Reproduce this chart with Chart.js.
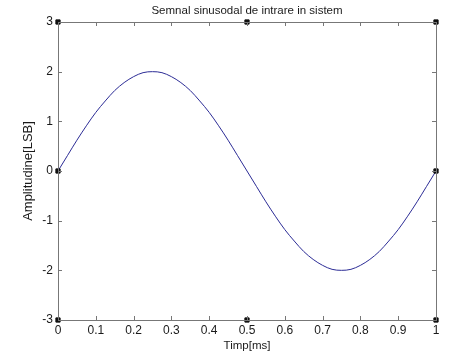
<!DOCTYPE html>
<html>
<head>
<meta charset="utf-8">
<script src="https://cdn.jsdelivr.net/npm/chart.js@4/dist/chart.umd.min.js"></script>
<style>
html,body{margin:0;padding:0;background:#fff;}
canvas{display:block;}
</style>
</head>
<body>
<canvas id="c" width="474" height="358"></canvas>
<script>
// Data
const timeMs = [0,0.025,0.05,0.075,0.1,0.125,0.15,0.175,0.2,0.225,0.25,0.275,0.3,0.325,0.35,0.375,0.4,0.425,0.45,0.475,0.5,
  0.525,0.55,0.575,0.6,0.625,0.65,0.675,0.7,0.725,0.75,0.775,0.8,0.825,0.85,0.875,0.9,0.925,0.95,0.975,1];
const amplitude = [0,0.31,0.62,0.91,1.18,1.41,1.62,1.78,1.90,1.98,2.00,1.98,1.90,1.78,1.62,1.41,1.18,0.91,0.62,0.31,0,
  -0.31,-0.62,-0.91,-1.18,-1.41,-1.62,-1.78,-1.90,-1.98,-2.00,-1.98,-1.90,-1.78,-1.62,-1.41,-1.18,-0.91,-0.62,-0.31,0];
const handleX = [0,0.5,1,0,1,0,0.5,1];
const handleY = [3,3,3,0,0,-3,-3,-3];
const xTicks = [0,0.1,0.2,0.3,0.4,0.5,0.6,0.7,0.8,0.9,1];
const yTicks = [-3,-2,-1,0,1,2,3];

const curve = timeMs.map((x,i)=>({x:x,y:amplitude[i]}));
const handles = handleX.map((x,i)=>({x:x,y:handleY[i]}));

const frameTicks = {
  id:'frameTicks',
  afterDatasetsDraw(chart){
    const {ctx, chartArea:a, scales:{x,y}} = chart;
    ctx.save();
    ctx.strokeStyle = '#777777';
    ctx.lineWidth = 1;
    ctx.strokeRect(Math.round(a.left)+0.5, Math.round(a.top)+0.5, Math.round(a.right-a.left), Math.round(a.bottom-a.top));
    const L = 4;
    ctx.beginPath();
    xTicks.forEach(v=>{
      const px = Math.round(x.getPixelForValue(v))+0.5;
      ctx.moveTo(px,a.bottom); ctx.lineTo(px,a.bottom-L);
      ctx.moveTo(px,a.top); ctx.lineTo(px,a.top+L);
    });
    yTicks.forEach(v=>{
      const py = Math.round(y.getPixelForValue(v))+0.5;
      ctx.moveTo(a.left,py); ctx.lineTo(a.left+L,py);
      ctx.moveTo(a.right,py); ctx.lineTo(a.right-L,py);
    });
    ctx.stroke();
    ctx.restore();
  }
};

const FF = 'Liberation Sans, Arial, sans-serif';
new Chart(document.getElementById('c'), {
  type:'scatter',
  data:{datasets:[
    {data:curve, showLine:true, borderColor:'#2b2b95', borderWidth:1, pointRadius:0, cubicInterpolationMode:'monotone', fill:false, order:2},
    {data:handles, showLine:false, pointStyle:'rect', pointRadius:3, backgroundColor:'#111', borderColor:'#111', borderWidth:1, clip:false, order:1}
  ]},
  options:{
    responsive:false,
    animation:false,
    devicePixelRatio:1,
    layout:{padding:{left:0,right:38,top:0,bottom:0}},
    plugins:{
      legend:{display:false},
      tooltip:{enabled:false},
      title:{display:true, fullSize:false, text:'Semnal sinusodal de intrare in sistem', color:'#1a1a1a',
        font:{family:FF, size:11.5, weight:'normal'}, padding:{top:4,bottom:4.2}}
    },
    scales:{
      x:{type:'linear', min:0, max:1,
        afterFit(s){ s.height = 38; },
        afterBuildTicks(s){ s.ticks = xTicks.map(v=>({value:v})); },
        ticks:{color:'#1a1a1a', padding:3, maxRotation:0, autoSkip:false,
          font:{family:FF, size:12},
          callback:v=>String(v)},
        grid:{display:false, drawTicks:false},
        border:{display:false},
        title:{display:true, text:'Timp[ms]', color:'#1a1a1a', padding:{top:0,bottom:5},
          font:{family:FF, size:11.5}}
      },
      y:{type:'linear', min:-3, max:3,
        afterFit(s){ s.width = 58; },
        afterBuildTicks(s){ s.ticks = yTicks.map(v=>({value:v})); },
        ticks:{color:'#1a1a1a', padding:5, autoSkip:false,
          font:{family:FF, size:12}},
        grid:{display:false, drawTicks:false},
        border:{display:false},
        title:{display:true, text:'Amplitudine[LSB]', color:'#1a1a1a', padding:{top:21,bottom:0},
          font:{family:FF, size:13}}
      }
    }
  },
  plugins:[frameTicks]
});
</script>
</body>
</html>
